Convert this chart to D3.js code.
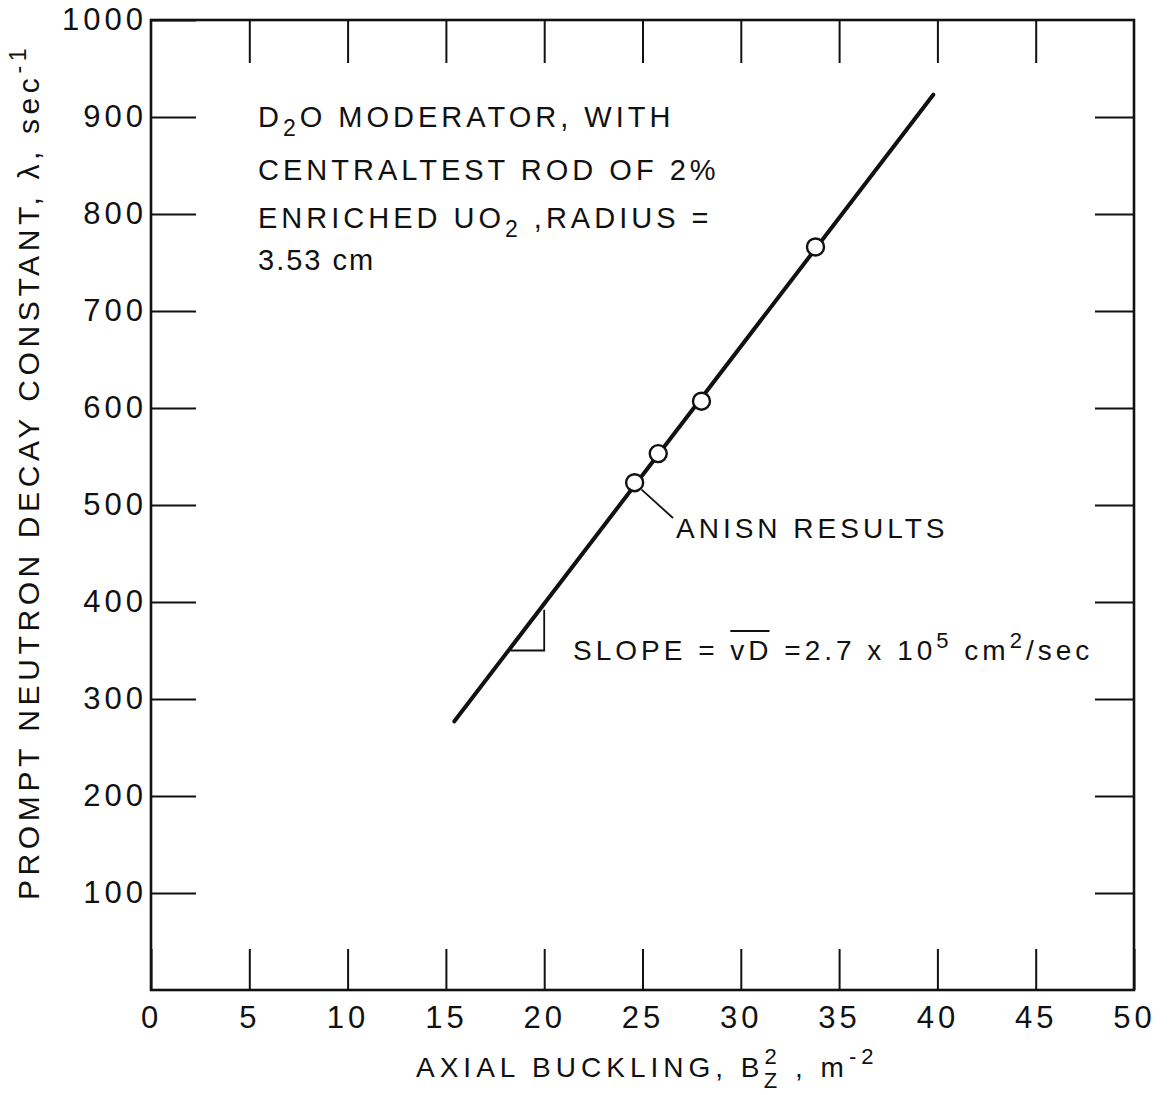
<!DOCTYPE html>
<html>
<head>
<meta charset="utf-8">
<script src="https://cdn.jsdelivr.net/npm/d3@7"></script>
<style>
  html, body { margin: 0; padding: 0; background: #fff; }
  svg { display: block; }
  text { font-family: "Liberation Sans", "DejaVu Sans", sans-serif; fill: #111; }
</style>
</head>
<body>
<svg id="chart" width="1173" height="1095"></svg>
<script>
// ---- data ----
const xTickValues = [0, 5, 10, 15, 20, 25, 30, 35, 40, 45, 50];
const yTickValues = [100, 200, 300, 400, 500, 600, 700, 800, 900, 1000];
const bucklingX = [24.6, 25.8, 28.0, 33.8];
const decayY = [523, 553, 607, 766];
const fitX = [15.43, 39.79];
const fitY = [277, 923];
const slopeTriX = [18.3, 20, 20];
const slopeTriY = [350, 350, 392];

const svg = d3.select("#chart");
const x = d3.scaleLinear().domain([0, 50]).range([151, 1134]);
const y = d3.scaleLinear().domain([0, 1000]).range([990, 20]);
const ink = "#111";

// frame
svg.append("rect")
  .attr("x", x(0)).attr("y", y(1000))
  .attr("width", x(50) - x(0)).attr("height", y(0) - y(1000))
  .attr("fill", "none").attr("stroke", ink).attr("stroke-width", 2.6);

// bottom axis
const gB = svg.append("g").attr("transform", `translate(0,${y(0)})`)
  .call(d3.axisBottom(x).tickValues(xTickValues).tickSize(-41).tickPadding(16).tickFormat(d3.format("d")));
// left axis
const gL = svg.append("g").attr("transform", `translate(${x(0)},0)`)
  .call(d3.axisLeft(y).tickValues(yTickValues).tickSize(-45).tickPadding(8).tickFormat(d3.format("d")));
// top axis
const gT = svg.append("g").attr("transform", `translate(0,${y(1000)})`)
  .call(d3.axisTop(x).tickValues(xTickValues.slice(1, -1)).tickSize(-43).tickFormat(""));
// right axis
const gR = svg.append("g").attr("transform", `translate(${x(50)},0)`)
  .call(d3.axisRight(y).tickValues(yTickValues.slice(0, -1)).tickSize(-39).tickFormat(""));

[gB, gL, gT, gR].forEach(g => {
  g.select(".domain").remove();
  g.selectAll(".tick line").attr("stroke", ink).attr("stroke-width", 2);
  g.selectAll(".tick text").attr("font-size", 31).attr("fill", ink)
    .attr("font-family", "Liberation Sans, sans-serif").style("letter-spacing", "4px");
});
// compensate trailing letter-spacing on right-anchored labels
gL.selectAll(".tick text").attr("dx", 4);

// fit line
svg.append("line")
  .attr("x1", x(fitX[0])).attr("y1", y(fitY[0]))
  .attr("x2", x(fitX[1])).attr("y2", y(fitY[1]))
  .attr("stroke", ink).attr("stroke-width", 4).attr("stroke-linecap", "round");

// slope triangle
svg.append("path")
  .attr("d", d3.line()(slopeTriX.map((v, i) => [x(v), y(slopeTriY[i])])))
  .attr("fill", "none").attr("stroke", ink).attr("stroke-width", 1.8);

// points
svg.selectAll("circle.pt").data(bucklingX).enter().append("circle")
  .attr("class", "pt")
  .attr("cx", d => x(d)).attr("cy", (d, i) => y(decayY[i]))
  .attr("r", 8.5).attr("fill", "#fff").attr("stroke", ink).attr("stroke-width", 2.4);

// leader line for ANISN RESULTS
svg.append("line")
  .attr("x1", x(bucklingX[0]) + 7).attr("y1", y(decayY[0]) + 7)
  .attr("x2", 673).attr("y2", 518)
  .attr("stroke", ink).attr("stroke-width", 1.8);

svg.append("text").attr("x", 676).attr("y", 538).attr("font-size", 28)
  .style("letter-spacing", "4px").text("ANISN RESULTS");

// annotation block
const ann = svg.append("g").attr("font-size", 29);
const l1 = ann.append("text").attr("x", 258).attr("y", 127).style("letter-spacing", "4px");
l1.append("tspan").text("D");
l1.append("tspan").attr("font-size", 23).attr("dy", 9).text("2");
l1.append("tspan").attr("dy", -9).text("O  MODERATOR, WITH");
ann.append("text").attr("x", 258).attr("y", 180).style("letter-spacing", "4px").text("CENTRALTEST  ROD  OF  2%");
const l3 = ann.append("text").attr("x", 258).attr("y", 228).style("letter-spacing", "4px");
l3.append("tspan").text("ENRICHED UO");
l3.append("tspan").attr("font-size", 23).attr("dy", 9).text("2");
l3.append("tspan").attr("dy", -9).text(" ,RADIUS =");
ann.append("text").attr("x", 258).attr("y", 270).style("letter-spacing", "2px").text("3.53 cm");

// slope text
const st = svg.append("text").attr("x", 573).attr("y", 660).attr("font-size", 28).style("letter-spacing", "4px");
st.append("tspan").text("SLOPE = ");
st.append("tspan").text("vD");
st.append("tspan").text(" =2.7 x 10");
st.append("tspan").attr("font-size", 22).attr("dy", -12).text("5");
st.append("tspan").attr("dy", 12).text("  cm");
st.append("tspan").attr("font-size", 22).attr("dy", -12).text("2");
st.append("tspan").attr("dy", 12).text("/sec");
// overline above vD
const node = st.node();
const full = node.textContent;
const idx = full.indexOf("vD");
const s0 = node.getStartPositionOfChar(idx);
const e1 = node.getEndPositionOfChar(idx + 1);
svg.append("line").attr("x1", s0.x).attr("x2", e1.x - 3).attr("y1", 631).attr("y2", 631)
  .attr("stroke", ink).attr("stroke-width", 2);

// x-axis title
const xt = svg.append("text").attr("x", 416).attr("y", 1077).attr("font-size", 28).style("letter-spacing", "5px");
xt.append("tspan").text("AXIAL  BUCKLING,  B");
xt.append("tspan").attr("font-size", 22).attr("dy", -13).text("2");
xt.append("tspan").attr("font-size", 22).attr("dx", -18).attr("dy", 24).text("Z");
xt.append("tspan").attr("dy", -11).text(" ,  m");
xt.append("tspan").attr("font-size", 22).attr("dy", -13).text("-2");

// y-axis title
const yt = svg.append("text").attr("transform", "translate(39,900) rotate(-90)")
  .attr("x", 0).attr("y", 0).attr("font-size", 30).style("letter-spacing", "4.6px");
yt.append("tspan").text("PROMPT NEUTRON DECAY CONSTANT, λ,  sec");
yt.append("tspan").attr("font-size", 23).attr("dy", -13).text("-1");
</script>
</body>
</html>
